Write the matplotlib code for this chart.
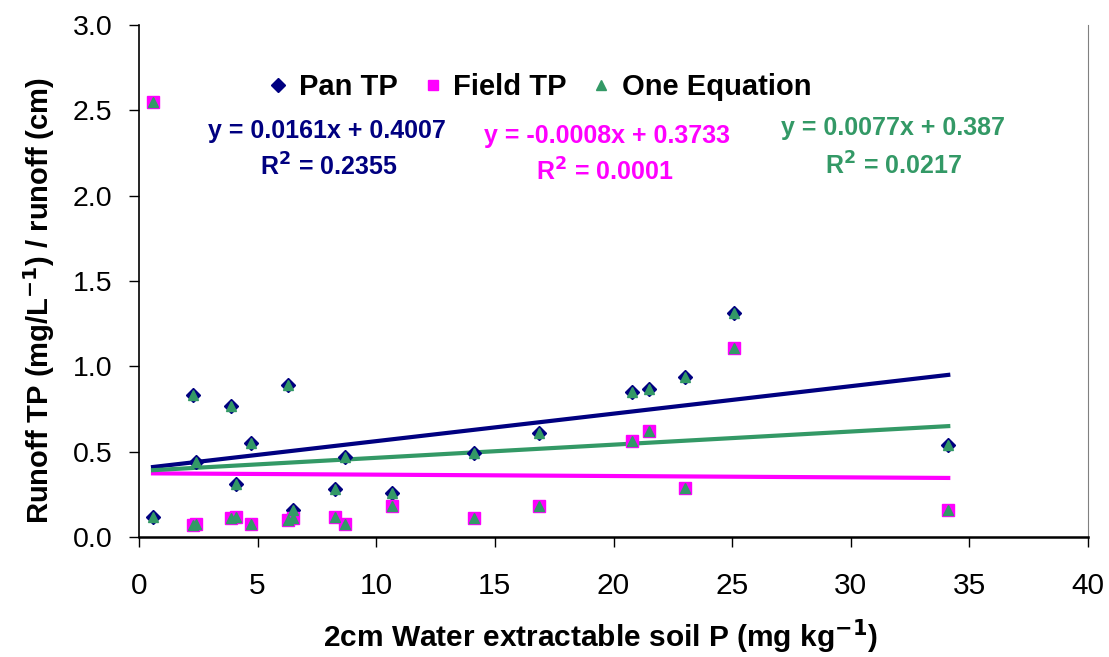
import matplotlib

matplotlib.use("Agg")
import matplotlib.pyplot as plt  # noqa: E402
from matplotlib.lines import Line2D  # noqa: E402

plt.rcParams["font.family"] = ["Liberation Sans", "DejaVu Sans"]

# soil P (x) for each plot, shared by both series
soil_p = [0.59, 2.28, 2.40, 3.88, 4.09, 4.72, 6.28, 6.49, 8.26, 8.68,
          10.67, 14.12, 16.86, 20.78, 21.50, 23.02, 25.08, 34.11]
pan_tp = [0.12, 0.83, 0.44, 0.77, 0.31, 0.55, 0.89, 0.16, 0.28, 0.47,
          0.26, 0.49, 0.61, 0.85, 0.87, 0.94, 1.31, 0.54]
field_tp = [2.55, 0.07, 0.075, 0.11, 0.12, 0.075, 0.10, 0.11, 0.12, 0.075,
            0.18, 0.11, 0.18, 0.56, 0.62, 0.29, 1.11, 0.16]

# trendline coefficients as printed on the chart (slope, intercept, R2)
fits = {
    "pan": (0.0161, 0.4007, 0.2355),
    "field": (-0.0008, 0.3733, 0.0001),
    "one": (0.0077, 0.387, 0.0217),
}

NAVY = "#000080"
MAGENTA = "#FF00FF"
GREEN = "#339966"
W, H = 1109, 657

fig = plt.figure(figsize=(W / 100, H / 100), dpi=100)
ax = fig.add_axes([139 / W, 1 - 537 / H, (1088 - 139) / W, (537 - 25) / H])

ax.plot(soil_p, pan_tp, ls="none", marker="D", ms=7, color=NAVY, zorder=3)
ax.plot(soil_p, field_tp, ls="none", marker="s", ms=8.5, color=MAGENTA, zorder=3)
ax.plot(soil_p + soil_p, pan_tp + field_tp, ls="none", marker="^", ms=7.5,
        color=GREEN, zorder=4)

x0, x1 = min(soil_p), max(soil_p)
for key, col in [("pan", NAVY), ("field", MAGENTA), ("one", GREEN)]:
    m, b, _ = fits[key]
    ax.plot([x0, x1], [m * x0 + b, m * x1 + b], color=col, lw=3, zorder=2)

ax.set_xlim(0, 40)
ax.set_ylim(0, 3.0)
ax.set_xticks(range(0, 41, 5))
ax.set_yticks([i * 0.5 for i in range(7)])
ax.set_yticklabels([f"{i * 0.5:.1f}" for i in range(7)])
ax.tick_params(axis="x", labelsize=21.5, length=7, width=1, direction="out", pad=18)
ax.tick_params(axis="y", labelsize=20.5, length=7, width=1, direction="out", pad=12)
ax.spines["top"].set_visible(False)
ax.spines["right"].set_color("#808080")
ax.spines["left"].set_linewidth(1.2)
ax.spines["bottom"].set_linewidth(1.8)

fig.text(600 / W, 1 - 637 / H, "2cm Water extractable soil P (mg kg$^{\\mathbf{-1}}$)",
         fontsize=21.5, fontweight="bold", ha="center", va="center")
fig.text(39 / W, 1 - 300 / H, "Runoff TP (mg/L$^{\\mathbf{-1}}$) / runoff (cm)",
         fontsize=21, fontweight="bold", ha="center", va="center", rotation=90)

# trendline equations
eq_style = dict(fontsize=18, fontweight="bold", ha="center", va="center",
                transform=fig.transFigure)
for key, col, (xe, ye), (xr, yr) in [
    ("pan", NAVY, (327, 131), (329, 167)),
    ("field", MAGENTA, (607, 136), (605, 172)),
    ("one", GREEN, (893, 128), (894, 166)),
]:
    m, b, r2 = fits[key]
    bs = f"{b:.4f}".rstrip("0")
    sign = "-" if m < 0 else ""
    fig.text(xe / W, 1 - ye / H, f"y = {sign}{abs(m):.4f}x + {bs}", color=col, **eq_style)
    fig.text(xr / W, 1 - yr / H, f"R$^{{\\mathbf{{2}}}}$ = {r2:.4f}", color=col, **eq_style)

handles = [
    Line2D([], [], ls="none", marker="D", ms=7.5, color=NAVY, label="Pan TP"),
    Line2D([], [], ls="none", marker="s", ms=7, color=MAGENTA, label="Field TP"),
    Line2D([], [], ls="none", marker="^", ms=6.5, color=GREEN, label="One Equation"),
]
fig.legend(handles=handles, loc="center", bbox_to_anchor=(539 / W, 1 - 87 / H),
           ncol=3, frameon=False, handletextpad=0.3, columnspacing=0.8,
           handlelength=0.8, prop={"size": 21, "weight": "bold"})

fig.savefig("out.png", dpi=100)
